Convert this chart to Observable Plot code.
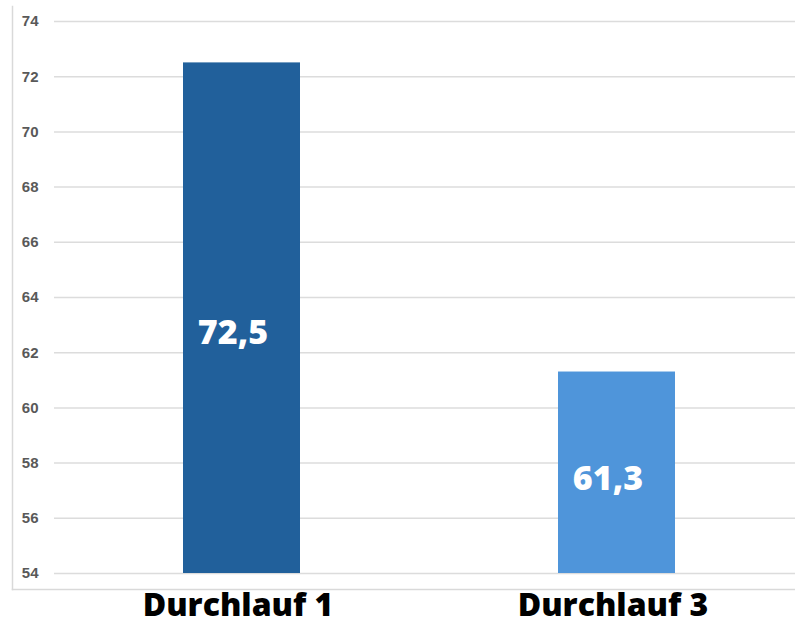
<!DOCTYPE html>
<html>
<head>
<meta charset="utf-8">
<script src="https://cdn.jsdelivr.net/npm/d3@7"></script>
<script src="https://cdn.jsdelivr.net/npm/@observablehq/plot@0.6"></script>
<style>
  html, body { margin: 0; padding: 0; background: #fff; }
</style>
</head>
<body>
<div id="chart"></div>
<script>
// Run names, their scores and the colour of each bar
const runs = ["Durchlauf 1", "Durchlauf 3"];
const scores = [72.5, 61.3];
const barColors = ["#21609b", "#4f95da"];
const yTicks = [54, 56, 58, 60, 62, 64, 66, 68, 70, 72, 74];
const yBase = 54;

const rows = runs.map((run, i) => ({
  run,
  score: scores[i],
  color: barColors[i],
  label: String(scores[i]).replace(".", ",")
}));

const heavy = "'Open Sans', Lato, 'DejaVu Sans', sans-serif";

const chart = Plot.plot({
  width: 795,
  height: 627,
  marginLeft: 54,
  marginRight: 0,
  marginTop: 21,
  marginBottom: 54,
  style: { background: "#fff", overflow: "visible" },
  x: {
    domain: runs,
    range: [54, 805],
    paddingInner: 0.687,
    paddingOuter: 0.3435,
    label: null
  },
  y: {
    domain: [yBase, 74],
    label: null
  },
  marks: [
    // light outer border on the left and bottom of the chart area
    Plot.frame({ anchor: "left", dx: -42, insetTop: -15, insetBottom: -16, stroke: "#d9d9d9", strokeWidth: 1.5 }),
    Plot.frame({ anchor: "bottom", dy: 16, insetLeft: -42, insetRight: -20, stroke: "#d9d9d9", strokeWidth: 1.5 }),
    Plot.gridY(yTicks, { stroke: "#dcdcdc", strokeOpacity: 1, strokeWidth: 1.5 }),
    Plot.axisY(yTicks, {
      tickSize: 0,
      tickPadding: 16,
      fontSize: 15,
      fontWeight: "bold",
      fontFamily: "'Liberation Sans', Arial, sans-serif",
      fill: "#595959",
      label: null
    }),
    Plot.barY(rows, { x: "run", y1: yBase, y2: "score", fill: "color" }),
    Plot.text(rows, {
      x: "run",
      y: d => yBase + 0.47 * (d.score - yBase),
      text: "label",
      dx: -9,
      fill: "white",
      fontSize: 34,
      fontWeight: 800,
      fontFamily: heavy
    }),
    Plot.axisX({
      tickSize: 0,
      tickPadding: 20,
      dx: -4,
      fontSize: 32,
      fontWeight: 800,
      fontFamily: heavy,
      fill: "#000",
      label: null
    })
  ]
});

document.getElementById("chart").appendChild(chart);
</script>
</body>
</html>
